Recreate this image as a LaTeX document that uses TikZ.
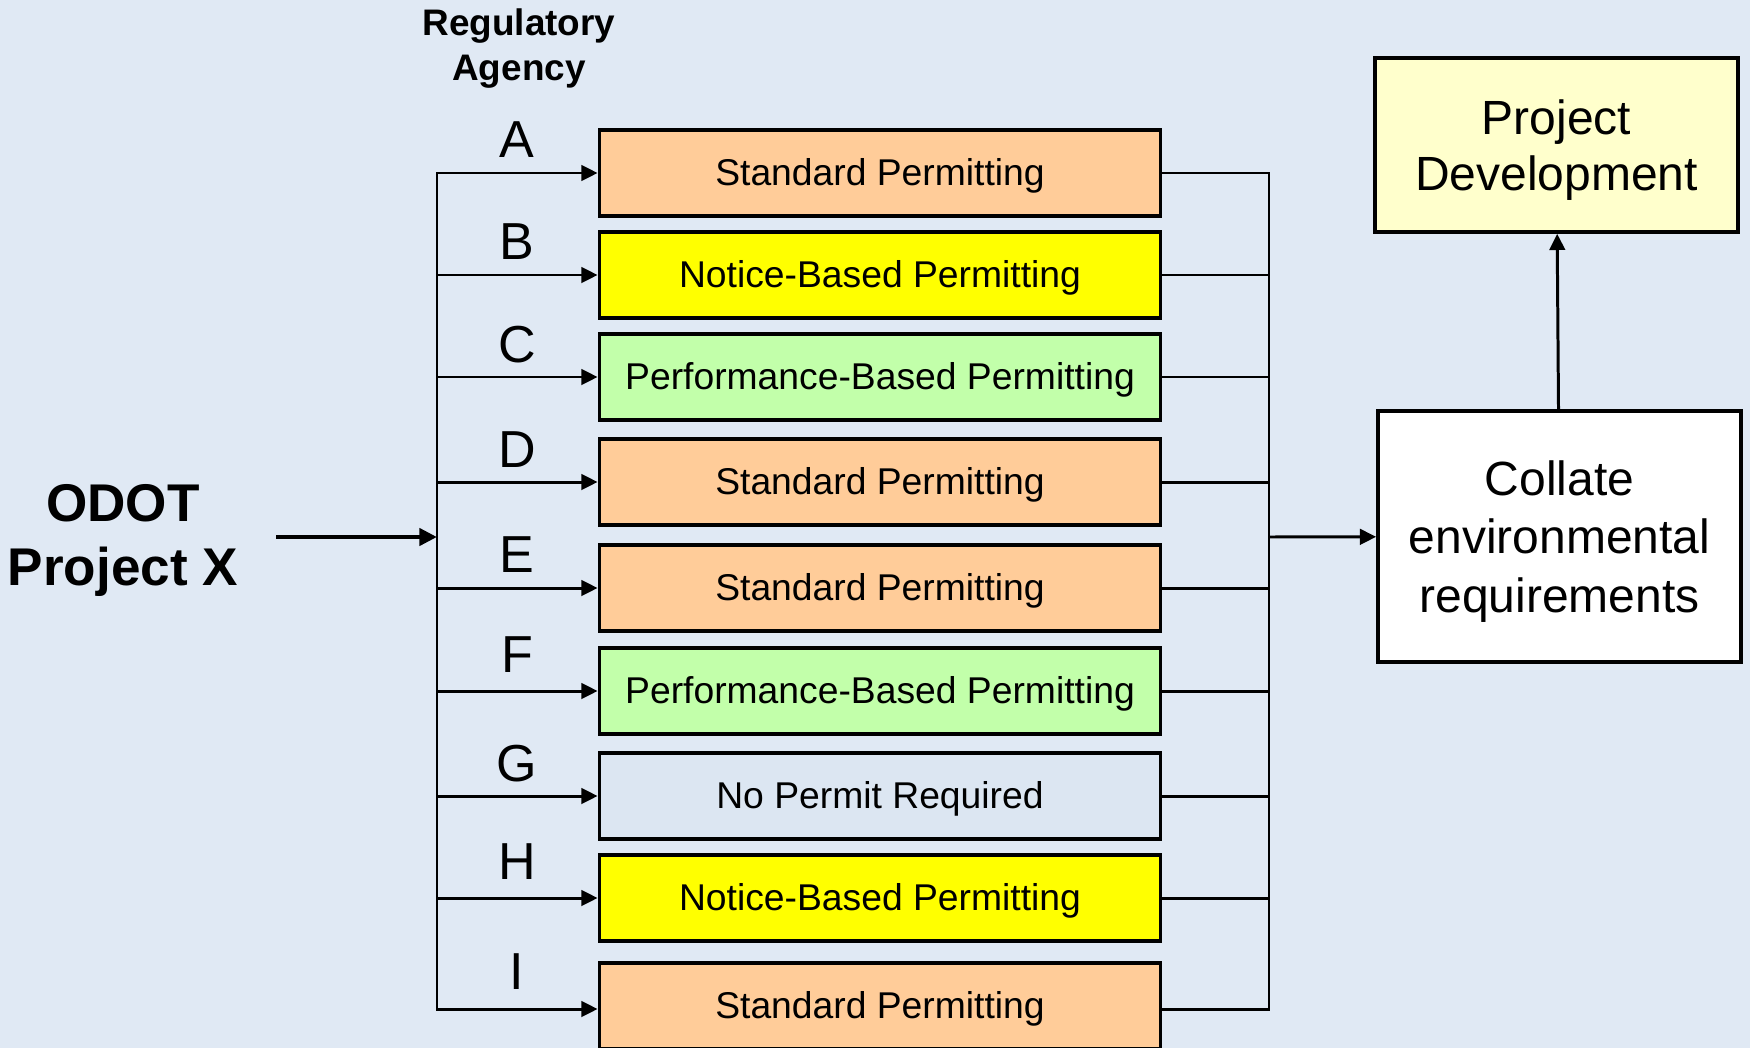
\documentclass[tikz,border=0pt]{standalone}
\usepackage{fontspec}
\setmainfont{Liberation Sans}
\usetikzlibrary{arrows.meta}

\definecolor{slidebg}{RGB}{224,233,244}
\definecolor{stdfill}{RGB}{255,204,153}
\definecolor{noticefill}{RGB}{255,255,0}
\definecolor{perffill}{RGB}{194,255,170}
\definecolor{nonefill}{RGB}{220,230,242}
\definecolor{devfill}{RGB}{255,255,204}

\tikzset{
  permit/.style={draw, line width=1pt, minimum width=5.61cm, minimum height=0.86cm, inner sep=0pt, text height=9.5pt, text depth=2.2pt, font=\fontsize{10.6}{12}\selectfont},
  agency/.style={font=\fontsize{14.8}{17}\selectfont, inner sep=0pt},
  bigbox/.style={draw, line width=1pt, minimum width=3.63cm, align=center, inner sep=0pt, text depth=-0.9pt},
  link/.style={line width=0.85pt, line cap=rect},
  feed/.style={line width=0.85pt, -{Triangle[length=4.6pt,width=4.4pt]}},
  bigfeed/.style={line width=1.3pt, -{Triangle[length=5pt,width=4.8pt]}}
}

\begin{document}
\begin{tikzpicture}[x=0.01cm, y=-0.01cm]
\fill[slidebg] (0,0) rectangle (1750,1048);
\useasboundingbox (0,0) rectangle (1750,1048);

\node[font=\bfseries\fontsize{10.5}{12.8}\selectfont, align=center] (regagency) at (519,48.5) {Regulatory\\Agency};
\node[font=\bfseries\fontsize{15.1}{18.2}\selectfont, align=center] (odot) at (123,540.5) {ODOT\\Project X};

\node[agency] (lA) at (517,140) {A};
\node[agency] (lB) at (517,242) {B};
\node[agency] (lC) at (517,345) {C};
\node[agency] (lD) at (517,450) {D};
\node[agency] (lE) at (517,555) {E};
\node[agency] (lF) at (517,655) {F};
\node[agency] (lG) at (517,764) {G};
\node[agency] (lH) at (517,862) {H};
\node[agency] (lI) at (517,972) {I};

\node[permit, fill=stdfill] (pA) at (880,173) {Standard Permitting};
\node[permit, fill=noticefill] (pB) at (880,275) {Notice-Based Permitting};
\node[permit, fill=perffill] (pC) at (880,377) {Performance-Based Permitting};
\node[permit, fill=stdfill] (pD) at (880,482) {Standard Permitting};
\node[permit, fill=stdfill] (pE) at (880,588) {Standard Permitting};
\node[permit, fill=perffill] (pF) at (880,691) {Performance-Based Permitting};
\node[permit, fill=nonefill] (pG) at (880,796) {No Permit Required};
\node[permit, fill=noticefill] (pH) at (880,898) {Notice-Based Permitting};
\node[permit, fill=stdfill] (pI) at (880,1006) {Standard Permitting};

\node[bigbox, fill=white, minimum height=2.51cm, font=\fontsize{13.65}{16.7}\selectfont] (collate) at (1559.5,536.5) {Collate\\environmental\\requirements};
\node[bigbox, fill=devfill, minimum height=1.74cm, font=\fontsize{13.65}{15.9}\selectfont] (devel) at (1556.5,145) {Project\\Development};

\coordinate (start) at (276,537);
\coordinate (lbus) at (437,537);
\coordinate (rbus) at (1269,537);
\foreach \n/\y in {A/173, B/275, C/377, D/482, E/588, F/691, G/796, H/898, I/1009}{
  \coordinate (in\n) at (437,\y);
  \coordinate (out\n) at (1269,\y);
}

\draw[link] (inA) -- (inI);
\draw[link] (outA) -- (outI);
\foreach \n in {A,...,I}{
  \draw[feed] (in\n) -- (in\n -| p\n.west);
  \draw[link] (out\n -| p\n.east) -- (out\n);
}
\draw[bigfeed] (start) -- (lbus);
\draw[feed] (rbus) -- (collate);
\draw[feed] (collate) -- (devel);

\end{tikzpicture}
\end{document}
